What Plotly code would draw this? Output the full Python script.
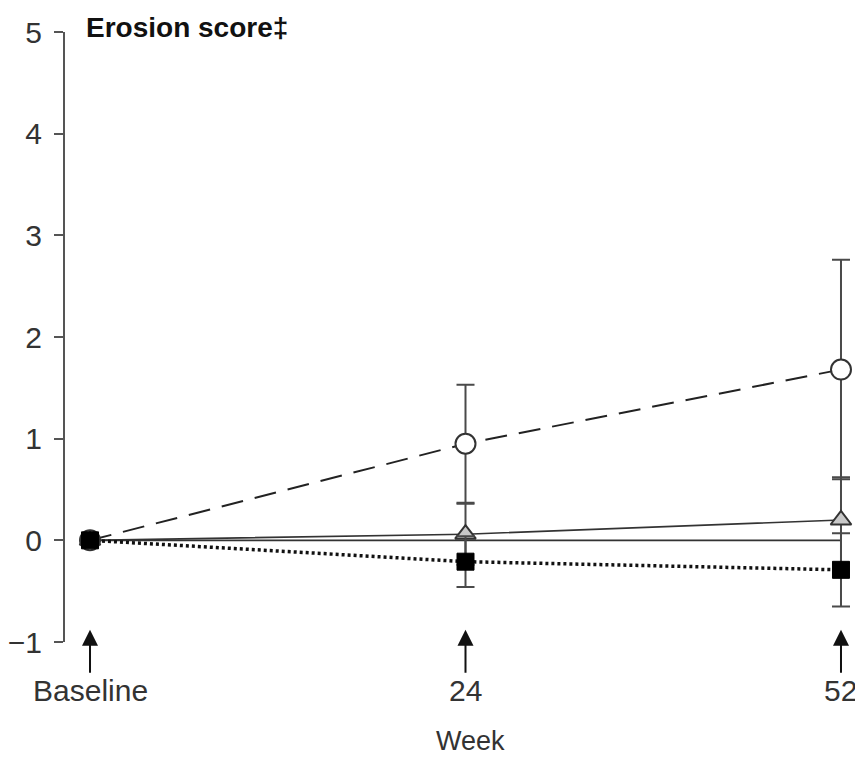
import plotly.graph_objects as go

# ---- data ----
weeks = ["Baseline", "24", "52"]

circle_mean = [0.0, 0.95, 1.68]
circle_err = [0.0, 0.58, 1.08]

triangle_mean = [0.0, 0.06, 0.20]
triangle_err = [0.0, 0.30, 0.42]

square_mean = [0.0, -0.21, -0.29]
square_err = [0.0, 0.25, 0.36]

y_ticks = [-1, 0, 1, 2, 3, 4, 5]

FONT = "Liberation Sans, Arial, sans-serif"
ERR_COLOR = "#4a4a4a"

fig = go.Figure()

# zero reference line
fig.add_shape(type="line", xref="x", yref="y", x0=0, x1=len(weeks) - 1, y0=0, y1=0,
              line=dict(color="#333333", width=1.6), layer="below")

fig.add_trace(go.Scatter(
    x=weeks, y=circle_mean, mode="lines+markers", name="Circle",
    line=dict(color="#222222", width=2, dash="22px,12px"),
    marker=dict(symbol="circle", size=20, color="white", line=dict(color="#333333", width=2)),
    error_y=dict(type="data", array=circle_err, visible=True, color=ERR_COLOR, thickness=2, width=9),
))

fig.add_trace(go.Scatter(
    x=weeks, y=triangle_mean, mode="lines+markers", name="Triangle",
    line=dict(color="#333333", width=1.6),
    marker=dict(symbol="triangle-up", size=18, color="#c9c9c9", line=dict(color="#333333", width=2)),
    error_y=dict(type="data", array=triangle_err, visible=True, color=ERR_COLOR, thickness=2, width=9),
))

fig.add_trace(go.Scatter(
    x=weeks, y=square_mean, mode="lines+markers", name="Square",
    line=dict(color="#111111", width=3.5, dash="3px,3px"),
    marker=dict(symbol="square", size=17, color="black", line=dict(color="black", width=1)),
    error_y=dict(type="data", array=square_err, visible=True, color=ERR_COLOR, thickness=2, width=9),
))

# arrows with week labels
for i, w in enumerate(weeks):
    fig.add_annotation(
        x=i, y=-0.88, xref="x", yref="y", text=w,
        showarrow=True, arrowhead=2, arrowsize=1.6, arrowwidth=2, arrowcolor="#111111",
        ax=0, ay=61, standoff=0,
        font=dict(family=FONT, size=30, color="#333333"),
    )

fig.add_annotation(
    x=0.513, y=-0.163, xref="paper", yref="paper", text="Week", showarrow=False,
    xanchor="center", yanchor="middle",
    font=dict(family=FONT, size=27, color="#333333"),
)

fig.add_annotation(
    x=0.024, y=1.008, xref="paper", yref="paper", text="<b>Erosion score‡</b>", showarrow=False,
    xanchor="left", yanchor="middle",
    font=dict(family=FONT, size=28, color="#111111"),
)

fig.update_layout(
    width=855, height=750, autosize=False,
    margin=dict(l=57, r=8, t=24, b=116, autoexpand=False),
    paper_bgcolor="white", plot_bgcolor="white",
    showlegend=False,
    font=dict(family=FONT, size=29, color="#333333"),
)

fig.update_xaxes(
    type="category", range=[-0.0666, 2.0373],
    showline=False, showgrid=False, zeroline=False,
    showticklabels=False, ticks="", automargin=False,
)

fig.update_yaxes(
    range=[-1, 5], tickvals=y_ticks,
    showline=True, linecolor="#555555", linewidth=2,
    ticks="outside", ticklen=9, tickwidth=2, tickcolor="#555555",
    showgrid=False, zeroline=False, ticklabelstandoff=6, automargin=False,
    tickfont=dict(family=FONT, size=30, color="#333333"),
)

fig.write_html("out.html")
